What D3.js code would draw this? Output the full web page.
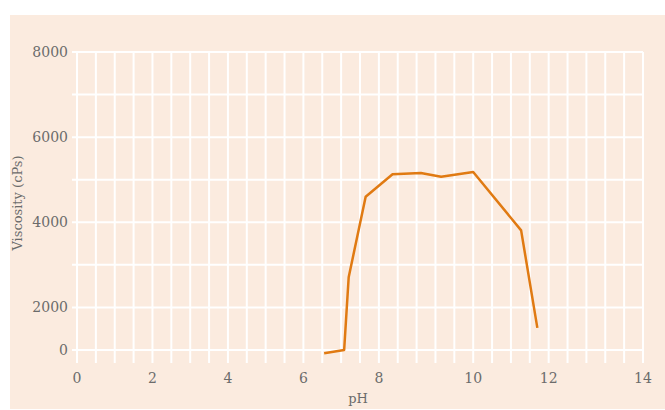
<!DOCTYPE html>
<html>
<head>
<meta charset="utf-8">
<script src="https://cdn.jsdelivr.net/npm/d3@7"></script>
<style>
  body { margin: 0; background: #fff; }
  text { font-family: "DejaVu Serif", serif; fill: #6b6b6b; }
</style>
</head>
<body>
<svg id="chart" width="665" height="410"></svg>
<script>
// data
const phValues = [6.55, 7.08, 7.2, 7.65, 8.29, 8.89, 9.32, 10.0, 11.27, 11.7];
const viscosity = [-150, 0, 2710, 4600, 5130, 5160, 5070, 5180, 3810, 1040];

// axis labels and the grid slot each one sits on (the original grid is uneven)
const xTickLabels = [0, 2, 4, 6, 8, 10, 12, 14];
const xTickSlots = [0, 4, 8, 12, 16, 21, 25, 30];
const yTickLabels = [0, 2000, 4000, 6000, 8000];
const yTickSlots = [0, 1, 3, 5, 7];
const X_SLOTS = 30, Y_SLOTS = 7;

const svg = d3.select("#chart");
const margin = { top: 52, right: 22, bottom: 60, left: 77 };
const W = +svg.attr("width"), H = +svg.attr("height");
const plotW = W - margin.left - margin.right;
const plotH = H - margin.top - margin.bottom;

// background panel
svg.append("rect")
    .attr("x", 10).attr("y", 15)
    .attr("width", W - 10).attr("height", H - 16)
    .attr("fill", "#fbebdf");

const col = d3.scaleLinear().domain([0, X_SLOTS]).range([margin.left, margin.left + plotW]);
const row = d3.scaleLinear().domain([0, Y_SLOTS]).range([margin.top + plotH, margin.top]);

const x = d3.scaleLinear().domain(xTickLabels).range(xTickSlots.map(col));
const y = d3.scaleLinear().domain(yTickLabels).range(yTickSlots.map(row));

const grid = svg.append("g").attr("stroke", "#fff").attr("stroke-width", 2);

// vertical grid lines, running a bit below the 0 line
grid.selectAll(".v")
    .data(d3.range(X_SLOTS + 1))
    .join("line")
    .attr("x1", d => col(d)).attr("x2", d => col(d))
    .attr("y1", margin.top).attr("y2", margin.top + plotH + 13);

// horizontal grid lines, running a bit left of x = 0
grid.selectAll(".h")
    .data(d3.range(Y_SLOTS + 1))
    .join("line")
    .attr("x1", margin.left - 5).attr("x2", margin.left + plotW)
    .attr("y1", d => row(d)).attr("y2", d => row(d));

// tick labels
svg.append("g").selectAll("text")
    .data(xTickLabels)
    .join("text")
    .attr("x", d => x(d))
    .attr("y", margin.top + plotH + 33)
    .attr("text-anchor", "middle")
    .style("font-size", "14px")
    .text(d => d);

svg.append("g").selectAll("text")
    .data(yTickLabels)
    .join("text")
    .attr("x", margin.left - 9)
    .attr("y", d => y(d) + 5)
    .attr("text-anchor", "end")
    .style("font-size", "14px")
    .text(d => d);

// axis titles
svg.append("text")
    .attr("x", 358).attr("y", 403)
    .attr("text-anchor", "middle")
    .style("font-size", "13px")
    .text("pH");

svg.append("text")
    .attr("transform", "translate(22," + (margin.top + plotH / 2 + 2) + ") rotate(-90)")
    .attr("text-anchor", "middle")
    .style("font-size", "13px")
    .text("Viscosity (cPs)");

// the curve
const line = d3.line()
    .x((d, i) => x(phValues[i]))
    .y(d => y(d));

svg.append("path")
    .datum(viscosity)
    .attr("fill", "none")
    .attr("stroke", "#e07a12")
    .attr("stroke-width", 2.5)
    .attr("stroke-linejoin", "round")
    .attr("d", line);
</script>
</body>
</html>
